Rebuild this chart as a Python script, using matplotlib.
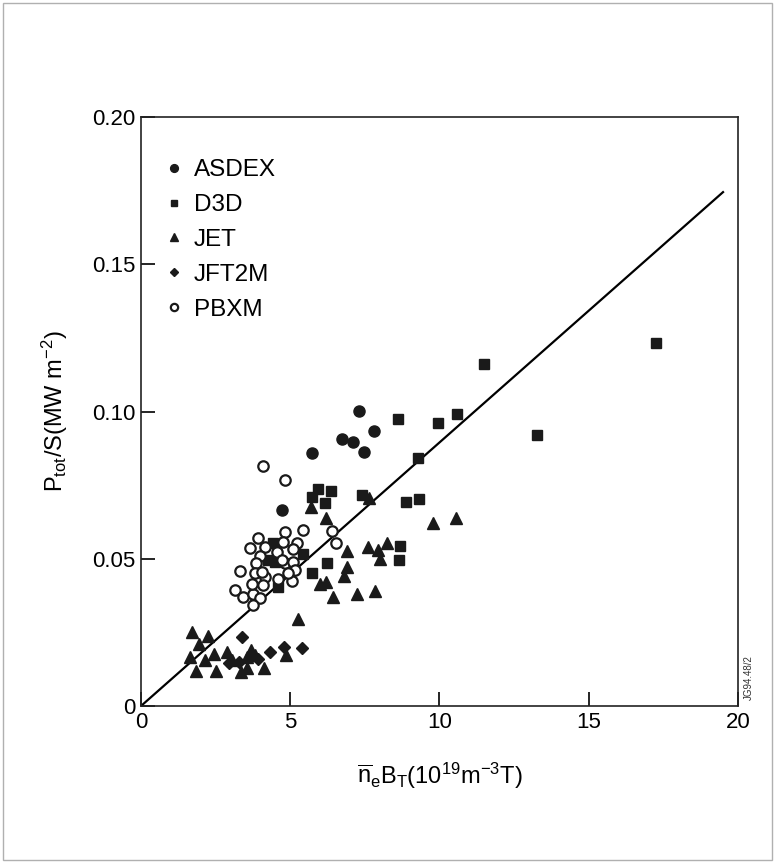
import matplotlib
matplotlib.use("Agg")
import matplotlib.pyplot as plt
from matplotlib.patches import Rectangle

plt.rcParams['font.family'] = ['Liberation Sans Narrow', 'Liberation Sans', 'DejaVu Sans']
plt.rcParams['mathtext.fontset'] = 'custom'
plt.rcParams['mathtext.rm'] = 'Liberation Sans'
plt.rcParams['mathtext.it'] = 'Liberation Sans'

# n_e*B_T (1e19 m^-3 T) versus P_tot/S (MW m^-2) for each tokamak
asdex_x = [4.71, 5.74, 6.72, 7.09, 7.30, 7.48, 7.80]
asdex_y = [0.0665, 0.0858, 0.0906, 0.0895, 0.1002, 0.0864, 0.0933]

d3d_x = [4.43, 4.27, 4.49, 4.60, 5.44, 5.73, 6.22, 5.94, 6.36, 5.72, 6.16, 7.40,
         8.62, 9.96, 10.58, 9.29, 8.88, 9.32, 8.68, 8.65, 11.50, 13.26, 17.25]
d3d_y = [0.0552, 0.0495, 0.0490, 0.0405, 0.0517, 0.0451, 0.0485, 0.0736, 0.0730,
         0.0711, 0.0688, 0.0718, 0.0975, 0.0960, 0.0992, 0.0841, 0.0692, 0.0704,
         0.0543, 0.0496, 0.1160, 0.0921, 0.1232]

jet_x = [5.70, 6.20, 7.65, 6.89, 6.91, 6.80, 6.00, 6.20, 6.44, 7.23, 7.84, 7.61,
         7.95, 8.23, 8.00, 9.77, 10.55, 5.27,
         1.72, 2.25, 1.95, 1.64, 2.14, 2.45, 1.84, 2.50, 2.87, 3.04, 3.34, 3.54,
         3.68, 3.82, 4.12, 4.85, 3.55]
jet_y = [0.0676, 0.0640, 0.0708, 0.0527, 0.0472, 0.0440, 0.0414, 0.0420, 0.0371,
         0.0379, 0.0391, 0.0540, 0.0530, 0.0555, 0.0500, 0.0620, 0.0637, 0.0296,
         0.0252, 0.0238, 0.0212, 0.0165, 0.0156, 0.0176, 0.0120, 0.0120, 0.0184,
         0.0156, 0.0114, 0.0128, 0.0190, 0.0173, 0.0128, 0.0173, 0.0165]

jft2m_x = [3.40, 2.95, 3.93, 4.32, 4.80, 5.38, 3.30]
jft2m_y = [0.0236, 0.0146, 0.0160, 0.0184, 0.0202, 0.0196, 0.0150]

pbxm_x = [4.10, 4.82, 4.82, 5.44, 6.39, 6.52, 3.93, 4.15, 3.65, 4.77, 5.22, 5.08,
          3.99, 4.55, 4.82, 5.10, 3.86, 3.32, 3.82, 4.15, 5.16, 5.05, 3.15, 3.43,
          3.76, 3.71, 4.10, 3.99, 3.76, 4.60, 4.93, 4.71, 4.04]
pbxm_y = [0.0815, 0.0768, 0.0592, 0.0598, 0.0595, 0.0552, 0.0572, 0.0541, 0.0535,
          0.0558, 0.0552, 0.0533, 0.0510, 0.0524, 0.0484, 0.0490, 0.0484, 0.0459,
          0.0450, 0.0439, 0.0462, 0.0425, 0.0394, 0.0371, 0.0382, 0.0416, 0.0411,
          0.0368, 0.0343, 0.0433, 0.0450, 0.0496, 0.0456]

# fitted scaling line
fit_x = [0.0, 19.5]
fit_y = [0.0, 0.1745]

x_ticks = [0, 5, 10, 15, 20]
y_ticks = [0, 0.05, 0.10, 0.15, 0.20]
y_tick_labels = ['0', '0.05', '0.10', '0.15', '0.20']

fig = plt.figure(figsize=(7.75, 8.63), dpi=100)
fig.patch.set_facecolor('white')
fig.patches.append(Rectangle((0.004, 0.004), 0.992, 0.992, transform=fig.transFigure,
                             fill=False, edgecolor='#b0b0b0', linewidth=1.0))

ax = fig.add_axes([0.1819, 0.1819, 0.7703, 0.6825])
ax.set_xlim(0, 20)
ax.set_ylim(0, 0.20)

ax.plot(fit_x, fit_y, color='black', linewidth=1.6, zorder=2)

mk = dict(color='#1a1a1a', linestyle='none', zorder=3)
ax.plot(asdex_x, asdex_y, marker='o', markersize=8, label='ASDEX', **mk)
ax.plot(d3d_x, d3d_y, marker='s', markersize=7, label='D3D', **mk)
ax.plot(jet_x, jet_y, marker='^', markersize=9, label='JET', **mk)
ax.plot(jft2m_x, jft2m_y, marker='D', markersize=6.5, label='JFT2M', **mk)
ax.plot(pbxm_x, pbxm_y, marker='o', markersize=7.5, markerfacecolor='white',
        markeredgecolor='#1a1a1a', markeredgewidth=1.6, linestyle='none',
        label='PBXM', zorder=4)

ax.set_xticks(x_ticks)
ax.set_xticklabels([str(t) for t in x_ticks])
ax.set_yticks(y_ticks)
ax.set_yticklabels(y_tick_labels)
ax.tick_params(direction='in', length=10, width=1.2, labelsize=16, pad=4,
               top=False, right=False)
for s in ax.spines.values():
    s.set_linewidth(1.2)
    s.set_color('#222222')

ax.set_xlabel(r'$\overline{\mathrm{n}}_{\mathrm{e}}\mathrm{B}_{\mathrm{T}}(10^{19}\mathrm{m}^{-3}\mathrm{T})$',
              fontsize=17, labelpad=20)
ax.set_ylabel(r'$\mathrm{P}_{\mathrm{tot}}/\mathrm{S(MW\ m}^{-2})$', fontsize=17, labelpad=16)

leg = ax.legend(loc='upper left', bbox_to_anchor=(0.025, 0.945), frameon=False,
                fontsize=17.5, markerscale=0.7, handlelength=0.7, handletextpad=0.45,
                labelspacing=0.53, borderaxespad=0.0)

fig.text(0.966, 0.215, 'JG94.48/2', rotation=90, fontsize=7, ha='center', va='center',
         color='#333333')

fig.savefig('out.png', dpi=100, facecolor='white')
